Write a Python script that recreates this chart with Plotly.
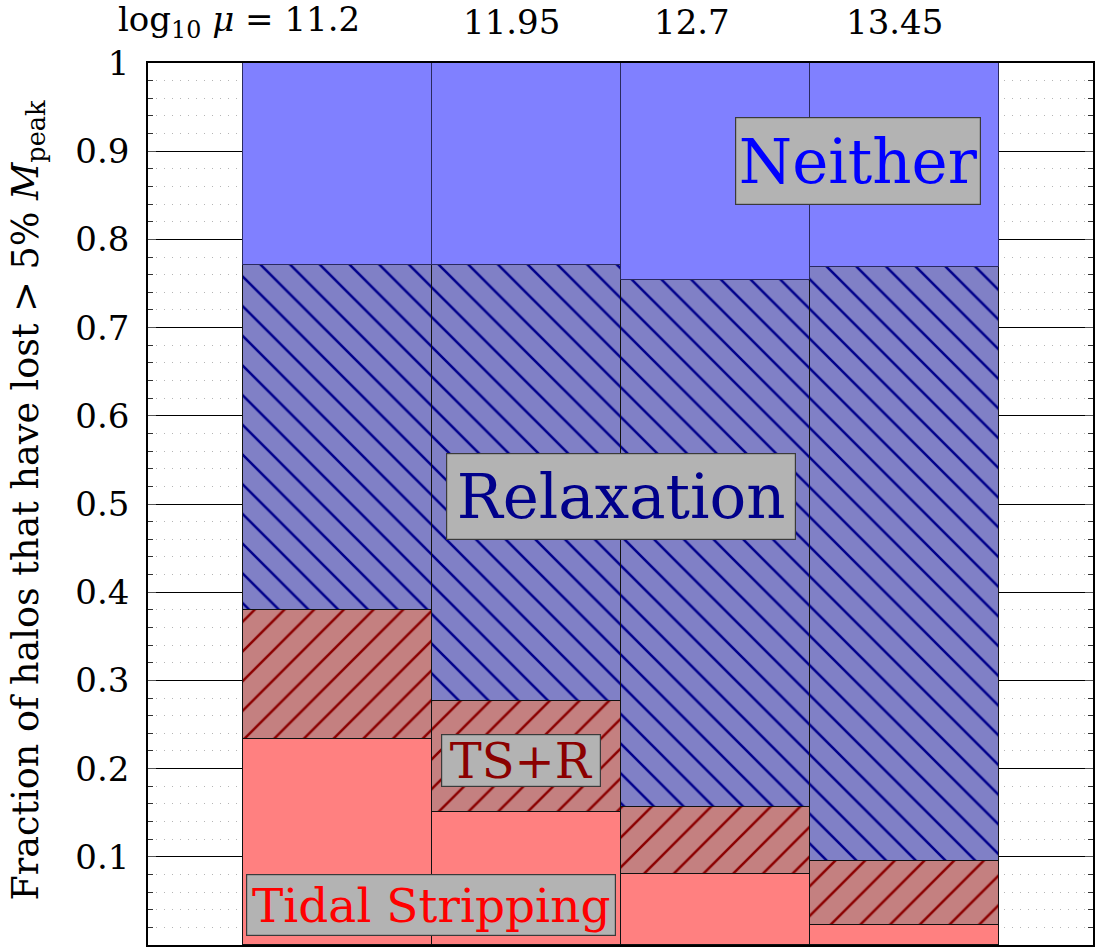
import plotly.graph_objects as go

# Host halo mass bins (log10 mu) and bar positions
mass_bins = ["11.2", "11.95", "12.7", "13.45"]
positions = [1, 2, 3, 4]

# Fraction of halos in each channel, stacked bottom to top
tidal_stripping = [0.233, 0.151, 0.080, 0.023]
ts_plus_r = [0.147, 0.126, 0.077, 0.072]
relaxation = [0.391, 0.494, 0.597, 0.674]
neither = [0.229, 0.229, 0.246, 0.231]

y_ticks = [0.1, 0.2, 0.3, 0.4, 0.5, 0.6, 0.7, 0.8, 0.9, 1.0]
y_tick_text = ["0.1", "0.2", "0.3", "0.4", "0.5", "0.6", "0.7", "0.8", "0.9", "1"]

FONT = "DejaVu Serif"

fig = go.Figure()

outline = dict(color="#111111", width=1)

fig.add_trace(go.Bar(
    x=positions, y=tidal_stripping, width=1, name="Tidal Stripping",
    marker=dict(color="#ff8080", line=outline),
))
fig.add_trace(go.Bar(
    x=positions, y=ts_plus_r, width=1, name="TS+R",
    marker=dict(color="#c48080", line=outline,
                pattern=dict(shape="/", size=21, solidity=0.12,
                             fgcolor="#8b0000", bgcolor="#c48080", fillmode="replace")),
))
fig.add_trace(go.Bar(
    x=positions, y=relaxation, width=1, name="Relaxation",
    marker=dict(color="#8080c6", line=outline,
                pattern=dict(shape="\\", size=21, solidity=0.12,
                             fgcolor="#00008b", bgcolor="#8080c6", fillmode="replace")),
))
fig.add_trace(go.Bar(
    x=positions, y=neither, width=1, name="Neither",
    marker=dict(color="#8080ff", line=dict(color="#2a2a60", width=1)),
))

# Boxed region labels: text, x, y, font size, colour, box width, box height
box = dict(bgcolor="#b3b3b3", bordercolor="#3a3a3a", borderwidth=1.2, borderpad=0)
labels = [
    ("Neither", 3.756, 0.889, 61, "#0000ff", 244, 86),
    ("Relaxation", 2.5, 0.509, 61, "#00008b", 348, 85),
    ("TS+R", 1.972, 0.2097, 48, "#8b0000", 158, 51),
    ("Tidal Stripping", 1.498, 0.0448, 47, "#ff0000", 368, 60),
]
for text, x, y, size, color, w, h in labels:
    fig.add_annotation(
        x=x, y=y, xref="x", yref="y", text=text, showarrow=False,
        font=dict(family=FONT, size=size, color=color),
        width=w, height=h, align="center", valign="middle", **box,
    )

# Mass-bin labels along the top
label_shift = [-0.516, -0.075, -0.12, -0.05]
for i, (pos, m) in enumerate(zip(positions, mass_bins)):
    txt = ("log<sub>10</sub> <i>μ</i> = " + m) if i == 0 else m
    fig.add_annotation(
        x=pos + label_shift[i], y=1.047, xref="x", yref="paper",
        text=txt, showarrow=False, xanchor="center", yanchor="middle",
        font=dict(family=FONT, size=34, color="black"),
    )

# Vertical axis title
fig.add_annotation(
    x=-0.127, y=0.504, xref="paper", yref="paper", textangle=-90,
    text="Fraction of halos that have lost > 5% <i>M</i><sub>peak</sub>",
    showarrow=False, xanchor="center", yanchor="middle",
    font=dict(family=FONT, size=36.5, color="black"),
)

fig.update_layout(
    width=1097, height=947,
    margin=dict(l=148, r=2, t=63, b=2),
    barmode="stack", bargap=0,
    showlegend=False,
    plot_bgcolor="white", paper_bgcolor="white",
    font=dict(family=FONT, color="black"),
)
fig.update_xaxes(
    range=[0, 5], showticklabels=False, ticks="", showgrid=False,
    zeroline=False, showline=True, linecolor="black", linewidth=1.5, mirror=True,
)
fig.update_yaxes(
    range=[0, 1], tickvals=y_ticks, ticktext=y_tick_text,
    tickfont=dict(family=FONT, size=34, color="black"),
    ticks="inside", ticklen=8, tickcolor="#555555", tickwidth=1.2,
    ticklabelstandoff=10,
    showgrid=True, gridcolor="black", gridwidth=1,
    zeroline=False, showline=True, linecolor="black", linewidth=1.5, mirror="ticks",
    minor=dict(dtick=0.02, ticks="inside", ticklen=5, tickcolor="#333333",
               showgrid=True, gridcolor="#b5b5b5", griddash="1px,7px", gridwidth=1),
)

fig.write_html("out.html")
